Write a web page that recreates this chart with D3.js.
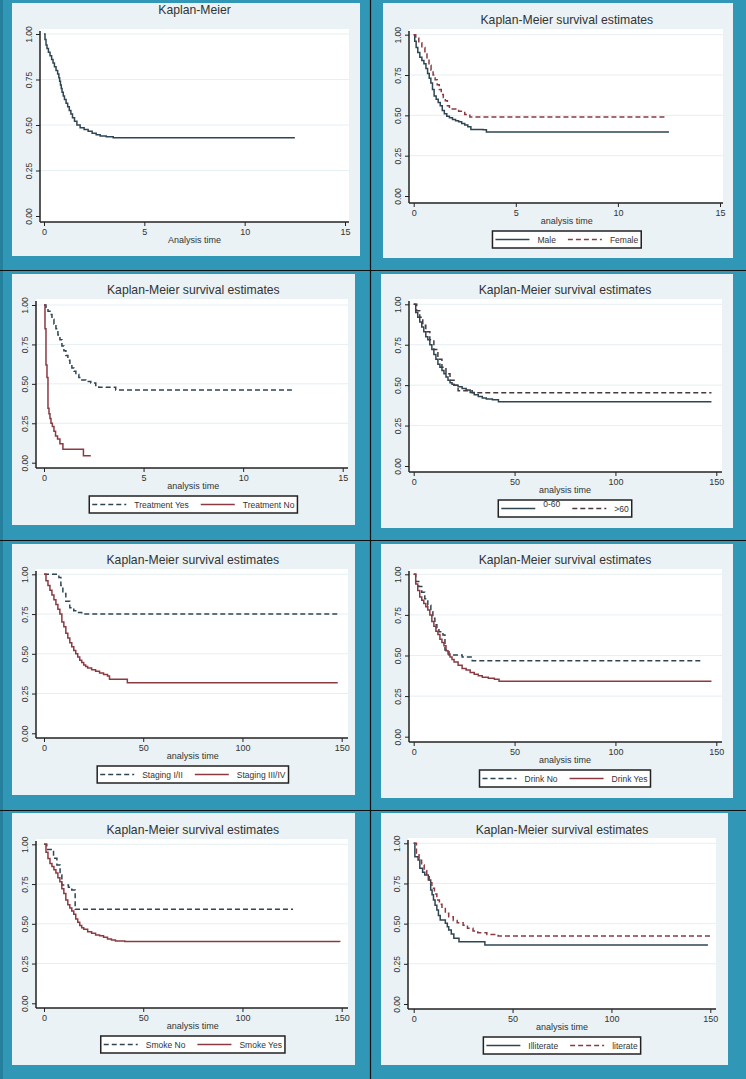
<!DOCTYPE html>
<html><head><meta charset="utf-8">
<script src="https://cdn.jsdelivr.net/npm/d3@7/dist/d3.min.js"></script>
<style>html,body{margin:0;padding:0;background:#3097b6;} svg{display:block}</style>
</head><body><svg id="c" width="746" height="1079"></svg>
<script>
// ---------------- DATA ----------------
const panelTitles = ["Kaplan-Meier","Kaplan-Meier survival estimates","Kaplan-Meier survival estimates","Kaplan-Meier survival estimates",
  "Kaplan-Meier survival estimates","Kaplan-Meier survival estimates","Kaplan-Meier survival estimates","Kaplan-Meier survival estimates"];
const axisTitles = ["Analysis time","analysis time","analysis time","analysis time","analysis time","analysis time","analysis time","analysis time"];
const xTicksYears = [0,5,10,15];
const xTicksMonths = [0,50,100,150];
const yTicks = [0,0.25,0.5,0.75,1];
const yTickLabels = ["0.00","0.25","0.50","0.75","1.00"];

// Panel 1: overall
const allTime = [0,0.05,0.1,0.15,0.22,0.3,0.38,0.45,0.52,0.6,0.68,0.74,0.78,0.82,0.86,0.9,0.96,1.02,1.1,1.18,1.26,1.34,1.42,1.52,1.64,1.8,2.0,2.2,2.4,2.6,2.8,3.1,3.45,12.5];
const allSurv = [1,0.97,0.94,0.92,0.9,0.88,0.86,0.84,0.82,0.8,0.78,0.76,0.74,0.72,0.7,0.68,0.66,0.64,0.62,0.6,0.58,0.56,0.54,0.52,0.5,0.485,0.475,0.465,0.455,0.447,0.44,0.435,0.43,0.43];
// Panel 2: sex
const maleTime = [0,0.05,0.12,0.2,0.3,0.4,0.5,0.6,0.68,0.76,0.84,0.92,1.0,1.1,1.2,1.3,1.4,1.5,1.62,1.75,1.9,2.05,2.2,2.35,2.5,2.65,2.8,3.4,3.56,12.5];
const maleSurv = [1,0.96,0.92,0.89,0.86,0.84,0.82,0.79,0.76,0.73,0.7,0.66,0.62,0.6,0.58,0.56,0.53,0.51,0.495,0.485,0.475,0.467,0.46,0.45,0.44,0.43,0.413,0.41,0.397,0.397];
const femaleTime = [0,0.1,0.25,0.4,0.55,0.65,0.75,0.85,0.95,1.05,1.15,1.25,1.35,1.45,1.55,1.65,1.75,2.2,2.5,2.75,12.35];
const femaleSurv = [1,0.98,0.95,0.92,0.88,0.85,0.81,0.78,0.75,0.72,0.69,0.66,0.63,0.61,0.59,0.56,0.54,0.525,0.505,0.49,0.49];
// Panel 3: treatment
const treatYesTime = [0,0.1,0.2,0.3,0.4,0.5,0.6,0.7,0.8,0.9,1.0,1.1,1.2,1.3,1.4,1.5,1.6,1.75,1.9,2.1,2.35,2.6,2.75,3.6,12.45];
const treatYesSurv = [1,0.98,0.96,0.94,0.91,0.88,0.85,0.81,0.78,0.74,0.71,0.68,0.65,0.62,0.6,0.58,0.56,0.54,0.525,0.515,0.505,0.49,0.478,0.461,0.461];
const treatNoTime = [0,0.05,0.1,0.15,0.2,0.25,0.3,0.35,0.42,0.5,0.58,0.68,0.8,0.95,1.98,2.35];
const treatNoSurv = [1,0.85,0.62,0.54,0.345,0.31,0.28,0.25,0.23,0.2,0.17,0.15,0.12,0.085,0.044,0.044];
// Panel 4: age
const age060Time = [0,1,2,3,4,5,6,7,8,9,10,11,12,13,14,15,16,17,18,19,20,22,24,26,28,30,32,34,36,39,42,147.6];
const age060Surv = [1,0.95,0.92,0.89,0.86,0.83,0.8,0.78,0.75,0.72,0.69,0.66,0.63,0.61,0.59,0.57,0.55,0.53,0.515,0.505,0.5,0.49,0.48,0.47,0.455,0.44,0.43,0.42,0.415,0.41,0.398,0.398];
const age60Time = [0,1.5,3,4.5,6,8,10,12,14,16,18,20,22,29,147.6];
const age60Surv = [1,0.96,0.92,0.87,0.83,0.78,0.72,0.66,0.61,0.57,0.53,0.5,0.465,0.453,0.453];
// Panel 5: staging
const stageLowTime = [0,7.5,8.5,9.5,11,13,15,17,19,149];
const stageLowSurv = [1,0.98,0.93,0.88,0.83,0.79,0.77,0.76,0.75,0.75];
const stageHighTime = [0,1,2,3,4,5,6,7,8,9,10,11,12,13,14,15,16,17,18,19,20,21,22,24,26,28,30,32,33,42,148];
const stageHighSurv = [1,0.96,0.93,0.9,0.87,0.84,0.81,0.78,0.75,0.7,0.67,0.63,0.6,0.57,0.545,0.52,0.5,0.48,0.46,0.445,0.43,0.42,0.41,0.4,0.39,0.38,0.37,0.36,0.34,0.318,0.318];
// Panel 6: drink
const drinkNoTime = [0,1,2.5,4,5.5,7,8.5,9.5,10.5,11.5,12.5,14.5,15.5,17.5,24,29,142.7];
const drinkNoSurv = [1,0.955,0.925,0.89,0.85,0.81,0.77,0.73,0.69,0.67,0.647,0.626,0.534,0.503,0.49,0.468,0.468];
const drinkYesTime = [0,1,2,3,4,5,6,7,8,9,10,11,12,13,14,15,16,17,18,19,20,22,24,26,28,30,32,34,37,40,42.3,147.6];
const drinkYesSurv = [1,0.94,0.9,0.86,0.84,0.82,0.8,0.78,0.75,0.71,0.68,0.65,0.63,0.6,0.58,0.56,0.53,0.51,0.49,0.475,0.46,0.44,0.42,0.41,0.395,0.385,0.375,0.366,0.36,0.353,0.341,0.341];
// Panel 7: smoke
const smokeNoTime = [0,1.4,4,4.8,6.5,8.1,9,12.3,14,15.7,125.5];
const smokeNoSurv = [1,0.968,0.955,0.912,0.87,0.807,0.744,0.73,0.713,0.591,0.591];
const smokeYesTime = [0,1,2,3,4,5,6,7,8,9,10,11,12,13,14,15,16,17,18,19,20,22,24,26,28,30,32,34,36,40.7,149];
const smokeYesSurv = [1,0.95,0.91,0.88,0.86,0.84,0.82,0.79,0.765,0.72,0.69,0.65,0.62,0.6,0.58,0.56,0.53,0.51,0.49,0.475,0.465,0.45,0.44,0.43,0.425,0.415,0.405,0.398,0.392,0.388,0.386];
// Panel 8: literacy
const illitTime = [0,0.6,2.2,3.1,4.5,5.6,7.4,8.6,9.3,10,10.8,11.7,12.5,13.4,16,17,17.7,19,20.3,22.9,36,148.8];
const illitSurv = [1,0.917,0.896,0.844,0.82,0.803,0.772,0.709,0.68,0.647,0.615,0.585,0.55,0.523,0.502,0.48,0.46,0.435,0.409,0.388,0.367,0.367];
const litTime = [0,1.4,2.7,4,5.3,6.6,7.9,9.2,10.5,11.7,13,14.3,16,17.7,20,22,25,27.2,30,32.4,37,42.7,150];
const litSurv = [1,0.938,0.9,0.865,0.83,0.792,0.755,0.72,0.685,0.647,0.62,0.595,0.565,0.543,0.52,0.506,0.49,0.471,0.455,0.444,0.432,0.423,0.423];

// ---------------- STYLE / LAYOUT ----------------
const TEAL = "#3097b6", PANEL = "#eaf2f5", DARK = "#2e4653", MAROON = "#8b3a42", TXT = "#333";
const SOLID = null, DASH = "5,3";
const layout = [
 {box:[12,3,360,256], plot:[40,29,349,222], xr:[44,345], yr:[34,216], titleY:14},
 {box:[383,3,733,258], plot:[409,29,723,203], xr:[413.7,720], yr:[34.7,196], titleY:24},
 {box:[12,274,355,525], plot:[36,299,348,468], xr:[44,342.7], yr:[305,462.7], titleY:294},
 {box:[381,274,733,528], plot:[409,299,722,472], xr:[413.7,716.3], yr:[304.3,466], titleY:294},
 {box:[12,544,355,795], plot:[36,569,348,738], xr:[44,341.7], yr:[574.3,733.3], titleY:564},
 {box:[381,544,733,798], plot:[409,569,722,742], xr:[413.7,716.3], yr:[574.3,736.7], titleY:564},
 {box:[12,813,355,1065], plot:[36,839,348,1008], xr:[44,341.7], yr:[844.3,1003.3], titleY:834},
 {box:[381,813,728,1065], plot:[408,838,716,1009], xr:[413.7,710.3], yr:[843.3,1004], titleY:834}
];
const panels = [
 {xmax:15, ticks:xTicksYears, legend:false, series:[{name:"All",t:allTime,s:allSurv,c:DARK,d:SOLID}]},
 {xmax:15, ticks:xTicksYears, legend:true, series:[{name:"Male",t:maleTime,s:maleSurv,c:DARK,d:SOLID},{name:"Female",t:femaleTime,s:femaleSurv,c:MAROON,d:DASH}]},
 {xmax:15, ticks:xTicksYears, legend:true, series:[{name:"Treatment Yes",t:treatYesTime,s:treatYesSurv,c:DARK,d:DASH},{name:"Treatment No",t:treatNoTime,s:treatNoSurv,c:MAROON,d:SOLID}]},
 {xmax:150, ticks:xTicksMonths, legend:true, series:[{name:"0-60",t:age060Time,s:age060Surv,c:DARK,d:SOLID,raise:5},{name:">60",t:age60Time,s:age60Surv,c:"#4a3a3e",d:DASH}]},
 {xmax:150, ticks:xTicksMonths, legend:true, series:[{name:"Staging I/II",t:stageLowTime,s:stageLowSurv,c:DARK,d:DASH},{name:"Staging III/IV",t:stageHighTime,s:stageHighSurv,c:MAROON,d:SOLID}]},
 {xmax:150, ticks:xTicksMonths, legend:true, series:[{name:"Drink No",t:drinkNoTime,s:drinkNoSurv,c:DARK,d:DASH},{name:"Drink Yes",t:drinkYesTime,s:drinkYesSurv,c:MAROON,d:SOLID}]},
 {xmax:150, ticks:xTicksMonths, legend:true, series:[{name:"Smoke No",t:smokeNoTime,s:smokeNoSurv,c:DARK,d:DASH},{name:"Smoke Yes",t:smokeYesTime,s:smokeYesSurv,c:MAROON,d:SOLID}]},
 {xmax:150, ticks:xTicksMonths, legend:true, series:[{name:"Illiterate",t:illitTime,s:illitSurv,c:DARK,d:SOLID},{name:"literate",t:litTime,s:litSurv,c:MAROON,d:DASH}]}
];

const FONT = "'Liberation Sans', Arial, sans-serif";
const svg = d3.select("#c").style("font-family", FONT);
svg.append("rect").attr("width",746).attr("height",1079).attr("fill",TEAL);
svg.append("rect").attr("x",0).attr("y",0).attr("width",3).attr("height",1079).attr("fill","#24809c");

panels.forEach((p,i) => {
  const L = layout[i];
  const g = svg.append("g");
  g.append("rect").attr("x",L.box[0]).attr("y",L.box[1]).attr("width",L.box[2]-L.box[0]).attr("height",L.box[3]-L.box[1]).attr("fill",PANEL);
  g.append("rect").attr("x",L.plot[0]).attr("y",L.plot[1]).attr("width",L.plot[2]-L.plot[0]).attr("height",L.plot[3]-L.plot[1]).attr("fill","#fff");
  const x = d3.scaleLinear().domain([0,p.xmax]).range(L.xr);
  const y = d3.scaleLinear().domain([0,1]).range([L.yr[1],L.yr[0]]);
  // grid
  g.selectAll(".grid").data(yTicks.filter(v=>v>0)).join("line")
    .attr("x1",L.plot[0]).attr("x2",L.plot[2]).attr("y1",d=>y(d)).attr("y2",d=>y(d))
    .attr("stroke","#e6eff2").attr("stroke-width",1);
  // curves
  const line = d3.line().x(d=>x(d[0])).y(d=>y(d[1])).curve(d3.curveStepAfter);
  p.series.forEach(s => {
    const pts = s.t.map((t,k)=>[t,s.s[k]]);
    g.append("path").attr("d",line(pts)).attr("fill","none").attr("stroke",s.c)
      .attr("stroke-width",1.5).attr("stroke-dasharray",s.d);
  });
  // y axis
  const ya = d3.axisLeft(y).tickValues(yTicks).tickFormat(d=>yTickLabels[yTicks.indexOf(d)]).tickSize(4).tickSizeOuter(0);
  const yg = g.append("g").attr("transform",`translate(${L.plot[0]},0)`).call(ya);
  yg.select(".domain").remove();
  yg.selectAll(".tick line").attr("stroke","#222").attr("stroke-width",1);
  yg.selectAll(".tick text").attr("x",null).attr("dy",null).attr("text-anchor","middle")
    .attr("transform","translate(-8,0) rotate(-90)").attr("font-size",8.5).attr("fill",TXT).attr("font-family",FONT);
  g.append("line").attr("x1",L.plot[0]).attr("x2",L.plot[0]).attr("y1",L.plot[1]+2).attr("y2",L.plot[3]).attr("stroke","#222").attr("stroke-width",1.5);
  // x axis
  const xa = d3.axisBottom(x).tickValues(p.ticks).tickFormat(d3.format("d")).tickSize(4).tickSizeOuter(0);
  const xg = g.append("g").attr("transform",`translate(0,${L.plot[3]})`).call(xa);
  xg.select(".domain").remove();
  xg.selectAll(".tick line").attr("stroke","#222");
  xg.selectAll(".tick text").attr("y",7).attr("dy","0.71em").attr("font-size",9).attr("fill",TXT).attr("font-family",FONT);
  g.append("line").attr("x1",L.plot[0]).attr("x2",L.plot[2]).attr("y1",L.plot[3]).attr("y2",L.plot[3]).attr("stroke","#222").attr("stroke-width",1.5);
  const cx = (L.xr[0]+L.xr[1])/2;
  g.append("text").attr("x",cx).attr("y",L.plot[3]+21).attr("text-anchor","middle").attr("font-size",9).attr("fill",TXT).text(axisTitles[i]);
  g.append("text").attr("x",cx).attr("y",L.titleY).attr("text-anchor","middle").attr("font-size",12.2).attr("fill",TXT).text(panelTitles[i]);
  // legend
  if (p.legend) {
    const lg = g.append("g");
    const top = L.plot[3]+28, h = 17, sample = 34, gap1 = 8, gap2 = 12, pad = 3;
    const widths = p.series.map(s => {
      const t = lg.append("text").attr("font-size",8.5).text(s.name);
      const w = t.node().getComputedTextLength(); t.remove(); return w;
    });
    const total = pad*2 + widths.reduce((a,w)=>a+sample+gap1+w,0) + gap2*(p.series.length-1);
    let lx = cx - total/2;
    lg.append("rect").attr("x",lx).attr("y",top).attr("width",total).attr("height",h).attr("fill","#fff").attr("stroke","#222").attr("stroke-width",1.5);
    let px = lx + pad;
    p.series.forEach((s,k) => {
      lg.append("line").attr("x1",px).attr("x2",px+sample).attr("y1",top+h/2).attr("y2",top+h/2)
        .attr("stroke",s.c).attr("stroke-width",1.5).attr("stroke-dasharray",s.d);
      px += sample + gap1;
      lg.append("text").attr("x",px).attr("y",top+h/2+3-(s.raise||0)).attr("font-size",8.5).attr("fill",TXT).text(s.name);
      px += widths[k] + gap2;
    });
  }
});
// divider lines
svg.append("line").attr("x1",370.5).attr("x2",370.5).attr("y1",0).attr("y2",1079).attr("stroke","#111").attr("stroke-width",1.2);
[270.5,540.5,810.5].forEach(v => svg.append("line").attr("x1",0).attr("x2",746).attr("y1",v).attr("y2",v).attr("stroke","#111").attr("stroke-width",1.2));
</script></body></html>
